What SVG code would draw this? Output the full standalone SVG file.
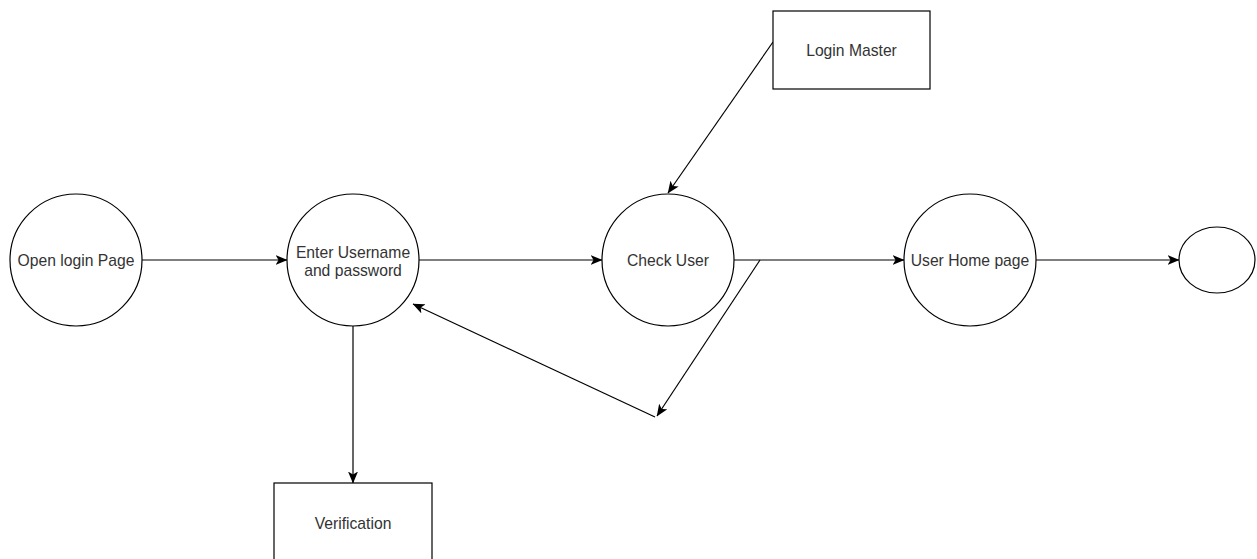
<svg xmlns="http://www.w3.org/2000/svg" width="1257" height="559" viewBox="0 0 1257 559">
<defs>
<style>
.shape{fill:#ffffff;stroke:#000000;stroke-width:1.2}
.edge{fill:none;stroke:#000000;stroke-width:1.2}
.lbl{font-family:"Liberation Sans",Arial,sans-serif;font-size:15.7px;fill:#333333;text-anchor:middle}
</style>
<marker id="arr" viewBox="0 0 12 10" refX="11.5" refY="5" markerWidth="12" markerHeight="10" markerUnits="userSpaceOnUse" orient="auto">
<path d="M0,0 L12,5 L0,10 L3,5 Z" fill="#000000"/>
</marker>
</defs>
<rect width="1257" height="559" fill="#ffffff"/>
<g id="connectors">
<line class="edge" x1="142" y1="260" x2="287" y2="260" marker-end="url(#arr)"/>
<line class="edge" x1="419" y1="260" x2="602" y2="260" marker-end="url(#arr)"/>
<line class="edge" x1="734" y1="260" x2="904" y2="260" marker-end="url(#arr)"/>
<line class="edge" x1="1036" y1="260" x2="1179" y2="260" marker-end="url(#arr)"/>
<line class="edge" x1="773" y1="42" x2="668" y2="193" marker-end="url(#arr)"/>
<line class="edge" x1="353" y1="326" x2="353" y2="483" marker-end="url(#arr)"/>
<line class="edge" x1="760" y1="260" x2="657" y2="416" marker-end="url(#arr)"/>
<line class="edge" x1="655" y1="417" x2="413" y2="304" marker-end="url(#arr)"/>
</g>
<g id="node-open-login">
<circle class="shape" cx="76" cy="260" r="66"/>
<text class="lbl" x="76" y="266">Open login Page</text>
</g>
<g id="node-enter-username">
<circle class="shape" cx="353" cy="260" r="66"/>
<text class="lbl" x="353" y="258">Enter Username</text>
<text class="lbl" x="353" y="276">and password</text>
</g>
<g id="node-check-user">
<circle class="shape" cx="668" cy="260" r="66"/>
<text class="lbl" x="668" y="266">Check User</text>
</g>
<g id="node-user-home">
<circle class="shape" cx="970" cy="260" r="66"/>
<text class="lbl" x="970" y="266">User Home page</text>
</g>
<g id="node-end">
<ellipse class="shape" cx="1217" cy="260" rx="38" ry="33"/>
</g>
<g id="node-login-master">
<rect class="shape" x="773" y="11" width="157" height="78"/>
<text class="lbl" x="851.5" y="56">Login Master</text>
</g>
<g id="node-verification">
<rect class="shape" x="274" y="483" width="158" height="90"/>
<text class="lbl" x="353" y="529">Verification</text>
</g>
</svg>
